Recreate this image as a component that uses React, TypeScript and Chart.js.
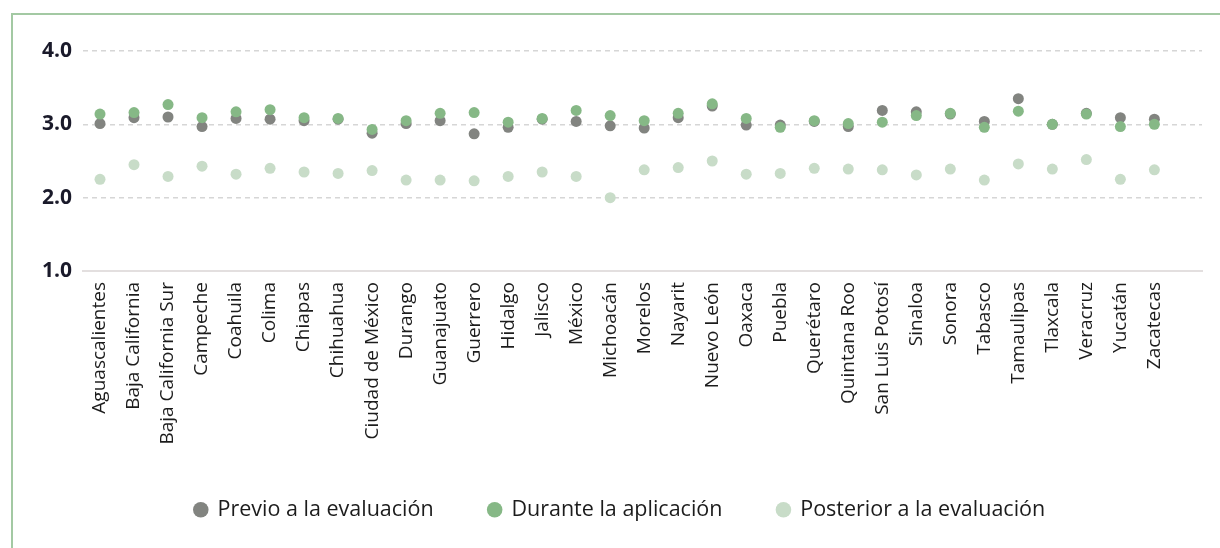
import React, { useEffect, useRef } from "react";
import { Chart, registerables } from "chart.js";

Chart.register(...registerables);

const states = [
  "Aguascalientes", "Baja California", "Baja California Sur", "Campeche", "Coahuila",
  "Colima", "Chiapas", "Chihuahua", "Ciudad de México", "Durango", "Guanajuato",
  "Guerrero", "Hidalgo", "Jalisco", "México", "Michoacán", "Morelos", "Nayarit",
  "Nuevo León", "Oaxaca", "Puebla", "Querétaro", "Quintana Roo", "San Luis Potosí",
  "Sinaloa", "Sonora", "Tabasco", "Tamaulipas", "Tlaxcala", "Veracruz", "Yucatán", "Zacatecas",
];

const previo = [
  3.01, 3.09, 3.10, 2.97, 3.08, 3.07, 3.05, 3.07, 2.88, 3.01, 3.05,
  2.87, 2.96, 3.07, 3.04, 2.98, 2.95, 3.09, 3.25, 2.99, 2.99, 3.04,
  2.97, 3.19, 3.17, 3.14, 3.04, 3.35, 3.00, 3.15, 3.09, 3.07,
];

const durante = [
  3.14, 3.16, 3.27, 3.09, 3.17, 3.20, 3.09, 3.08, 2.93, 3.05, 3.15,
  3.16, 3.03, 3.08, 3.19, 3.12, 3.05, 3.15, 3.28, 3.08, 2.96, 3.05,
  3.01, 3.03, 3.12, 3.15, 2.96, 3.18, 3.00, 3.14, 2.97, 3.00,
];

const posterior = [
  2.25, 2.45, 2.29, 2.43, 2.32, 2.40, 2.35, 2.33, 2.37, 2.24, 2.24,
  2.23, 2.29, 2.35, 2.29, 2.00, 2.38, 2.41, 2.50, 2.32, 2.33, 2.40,
  2.39, 2.38, 2.31, 2.39, 2.24, 2.46, 2.39, 2.52, 2.25, 2.38,
];

const seriesNames = ["Previo a la evaluación", "Durante la aplicación", "Posterior a la evaluación"];
const seriesColors = ["#828480", "#86b886", "#c8dcc8"];
const yTicks = [1, 2, 3, 4];

const toPoints = (arr: number[]) => arr.map((v, i) => ({ x: i, y: v }));

export default function App() {
  const ref = useRef<HTMLCanvasElement | null>(null);

  useEffect(() => {
    if (!ref.current) return;
    const font = "'Open Sans', 'Noto Sans', sans-serif";
    const chart = new Chart(ref.current, {
      type: "scatter",
      data: {
        datasets: [previo, durante, posterior].map((arr, k) => ({
          label: seriesNames[k],
          data: toPoints(arr),
          backgroundColor: seriesColors[k],
          borderColor: seriesColors[k],
          borderWidth: 0,
          pointRadius: 5.5,
          pointHoverRadius: 5.5,
          order: k === 1 ? 1 : k === 0 ? 2 : 3,
        })),
      },
      options: {
        responsive: false,
        devicePixelRatio: 1,
        animation: false,
        layout: { padding: { left: 38, right: 18, top: 51, bottom: 17.5 } },
        plugins: {
          tooltip: { enabled: false },
          legend: {
            position: "bottom",
            labels: {
              usePointStyle: true,
              pointStyle: "circle",
              boxWidth: 12,
              boxHeight: 11,
              padding: 55,
              color: "#1c1c1c",
              font: { family: font, size: 21.5 },
              sort: (a: any, b: any) => a.datasetIndex - b.datasetIndex,
            },
          },
        },
        scales: {
          x: {
            type: "linear",
            min: -0.5,
            max: 32.4,
            afterBuildTicks: (scale: any) => {
              scale.ticks = states.map((_, i) => ({ value: i }));
            },
            afterFit: (scale: any) => {
              scale.height = 173;
            },
            grid: { display: false, drawTicks: false },
            border: { display: true, color: "#e3dfdf", width: 2 },
            ticks: {
              autoSkip: false,
              minRotation: 90,
              maxRotation: 90,
              padding: 11,
              color: "#1c1c1c",
              font: { family: font, size: 19 },
              callback: (v: any) => states[Number(v)] ?? "",
            },
          },
          y: {
            min: 1,
            max: 4,
            afterBuildTicks: (scale: any) => {
              scale.ticks = yTicks.map((v) => ({ value: v }));
            },
            afterFit: (scale: any) => {
              scale.width = 45;
            },
            grid: {
              drawTicks: false,
              color: (ctx: any) => (ctx.tick && ctx.tick.value === 1 ? "rgba(0,0,0,0)" : "#d6d6d6"),
              lineWidth: 1.5,
            },
            border: { display: false, dash: [5, 4] },
            ticks: {
              padding: 11,
              color: "#1a1a2a",
              font: { family: font, size: 21, weight: "700" },
              callback: (v: any) => Number(v).toFixed(1),
            },
          },
        },
      },
    } as any);
    return () => chart.destroy();
  }, []);

  return (
    <div style={{ position: "absolute", left: 0, top: 0, width: 1220, height: 548, overflow: "hidden", background: "#fff" }}>
      <div
        style={{
          position: "absolute",
          left: 11,
          top: 13,
          width: 1300,
          height: 600,
          borderTop: "2px solid #a3c9a3",
          borderLeft: "2px solid #a3c9a3",
        }}
      />
      <canvas ref={ref} width={1220} height={548} style={{ position: "absolute", left: 0, top: 0 }} />
    </div>
  );
}
